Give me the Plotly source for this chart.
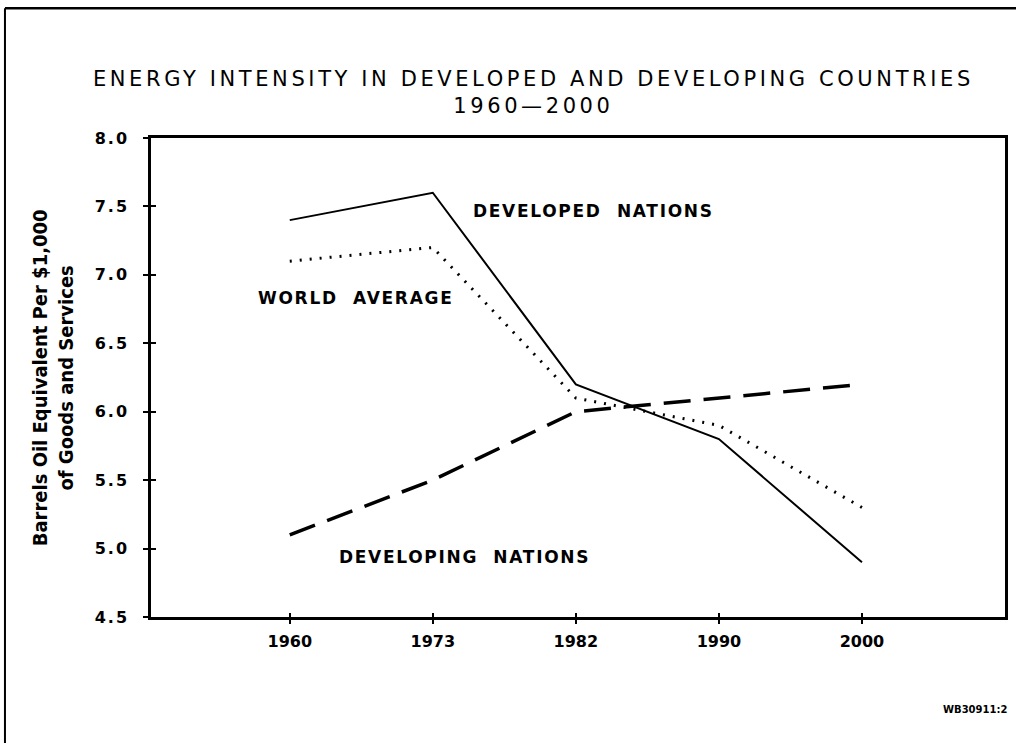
import plotly.graph_objects as go

years = ["1960", "1973", "1982", "1990", "2000"]
developed = [7.4, 7.6, 6.2, 5.8, 4.9]
world = [7.1, 7.2, 6.1, 5.9, 5.3]
developing = [5.1, 5.5, 6.0, 6.1, 6.2]
y_ticks = [4.5, 5.0, 5.5, 6.0, 6.5, 7.0, 7.5, 8.0]
y_tick_labels = ["4.5", "5.0", "5.5", "6.0", "6.5", "7.0", "7.5", "8.0"]

xi = list(range(len(years)))
BLACK = "#000000"


def spaced(t, px):
    return f'<span style="letter-spacing:{px}px">{t}</span>'


tick_font = dict(family="DejaVu Sans", size=16, color=BLACK, weight="bold")

fig = go.Figure()
fig.add_trace(go.Scatter(x=xi, y=developed, mode="lines", name="Developed Nations",
                         line=dict(color=BLACK, width=2, dash="solid")))
fig.add_trace(go.Scatter(x=xi, y=world, mode="lines", name="World Average",
                         line=dict(color=BLACK, width=3, dash="2px,8px")))
fig.add_trace(go.Scatter(x=xi, y=developing, mode="lines", name="Developing Nations",
                         line=dict(color=BLACK, width=3.5, dash="27px,13px")))

XR = [-0.97, 5.0]
YR = [4.5, 8.0]
fig.update_layout(
    width=1016, height=743,
    margin=dict(l=151, r=8, t=138, b=126),
    paper_bgcolor="white", plot_bgcolor="white",
    showlegend=False,
    title=dict(text=spaced("ENERGY INTENSITY IN DEVELOPED AND DEVELOPING COUNTRIES", 3.6)
               + "<br>" + spaced("1960\u20142000", 3.6),
               x=0.525, xanchor="center", y=0.884, yanchor="top",
               font=dict(family="DejaVu Sans", size=21, color=BLACK)),
    xaxis=dict(range=XR, tickvals=xi, ticktext=years,
               showgrid=False, zeroline=False, showline=True, linecolor=BLACK,
               linewidth=2.5, mirror=True, ticks="outside", ticklen=4, tickwidth=2,
               tickcolor=BLACK, tickfont=tick_font, ticklabelstandoff=4),
    yaxis=dict(range=YR, tickvals=y_ticks,
               ticktext=[spaced(t, 2) for t in y_tick_labels],
               showgrid=False, zeroline=False, showline=True, linecolor=BLACK,
               linewidth=2.5, mirror=True, ticks="outside", ticklen=5, tickwidth=2,
               tickcolor=BLACK, tickfont=tick_font, ticklabelstandoff=11),
    xaxis2=dict(range=XR, tickvals=xi, showticklabels=False,
                overlaying="x", side="bottom", anchor="y", showgrid=False,
                zeroline=False, ticks="inside", ticklen=4, tickwidth=2, tickcolor=BLACK),
    yaxis2=dict(range=YR, tickvals=y_ticks, showticklabels=False,
                overlaying="y", side="left", anchor="x", showgrid=False,
                zeroline=False, ticks="inside", ticklen=5, tickwidth=2, tickcolor=BLACK),
)
# invisible trace to activate the inner-tick axes
fig.add_trace(go.Scatter(x=[xi[0]], y=[developed[0]], xaxis="x2", yaxis="y2",
                         mode="markers", marker=dict(opacity=0), hoverinfo="skip",
                         showlegend=False))

label_font = dict(family="DejaVu Sans", size=17, color=BLACK, weight="bold")
fig.add_annotation(x=2.12, y=7.47, xref="x", yref="y", text=spaced("DEVELOPED  NATIONS", 1.7),
                   showarrow=False, font=label_font)
fig.add_annotation(x=0.46, y=6.83, xref="x", yref="y", text=spaced("WORLD  AVERAGE", 1.7),
                   showarrow=False, font=label_font)
fig.add_annotation(x=1.22, y=4.94, xref="x", yref="y", text=spaced("DEVELOPING  NATIONS", 1.7),
                   showarrow=False, font=label_font)

fig.add_annotation(x=-0.115, y=0.5, xref="paper", yref="paper",
                   text="Barrels Oil Equivalent Per $1,000<br>of Goods and Services",
                   textangle=-90, showarrow=False, xanchor="center", yanchor="middle",
                   font=dict(family="Liberation Sans Narrow, DejaVu Sans Condensed", size=20,
                             color=BLACK, weight="bold"))
fig.add_annotation(x=1.005, y=-0.194, xref="paper", yref="paper", text="WB30911:2",
                   showarrow=False, xanchor="right", yanchor="middle",
                   font=dict(family="DejaVu Sans", size=10, color=BLACK, weight="bold"))

# scanned page frame
fig.add_shape(type="line", xref="paper", yref="paper", x0=-0.171, x1=1.03, y0=1.271, y1=1.271,
              line=dict(color=BLACK, width=2.5))
fig.add_shape(type="line", xref="paper", yref="paper", x0=-0.171, x1=-0.171, y0=1.271, y1=-0.3,
              line=dict(color=BLACK, width=2))

fig.write_html("out.html", config={"displayModeBar": False},
               post_script="document.body.style.margin='0';document.body.style.overflow='hidden';")
